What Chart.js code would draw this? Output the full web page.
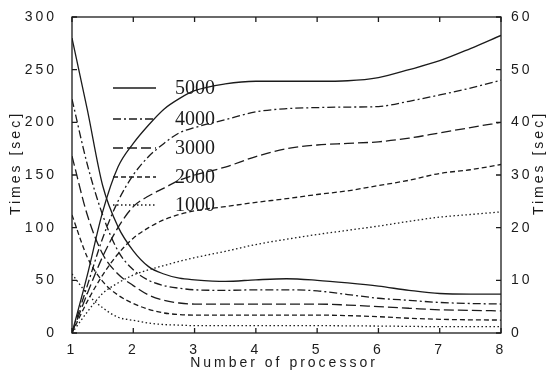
<!DOCTYPE html>
<html><head><meta charset="utf-8">
<script src="https://cdn.jsdelivr.net/npm/chart.js@4.4.0/dist/chart.umd.min.js"></script>
<style>html,body{margin:0;padding:0;background:#fff}#wrap{width:547px;height:373px}</style>
</head><body><div id="wrap"><canvas id="c" width="547" height="373"></canvas></div>
<script>
// ---- data ----
const processors = [1, 1.25, 1.5, 1.75, 2, 2.25, 2.5, 2.75, 3, 3.5, 4, 4.5, 5, 5.5, 6, 6.5, 7, 7.5, 8];
const sizes = ['5000', '4000', '3000', '2000', '1000'];
// decreasing curves (left axis, 0-300)
const left5000 = [280, 212, 140, 101, 78, 63, 56, 52, 50.5, 49, 50.5, 51.5, 50, 47.5, 44.5, 40.5, 37.5, 37, 37];
const left4000 = [222, 160, 112, 78, 60, 50, 45, 42.5, 41, 40.5, 41, 41, 40, 36.5, 33, 31, 29, 28, 27.5];
const left3000 = [168, 112, 75, 56, 45, 36, 31, 28.5, 27.5, 27.5, 27.5, 27.5, 27.5, 26.5, 25, 23.5, 22, 21.5, 21];
const left2000 = [112, 72, 49, 36, 28, 22.5, 19, 17.5, 17, 17, 17, 17, 17, 16.5, 15.5, 14, 13, 12.5, 12.3];
const left1000 = [56, 37, 24, 15, 12, 9.5, 8, 7.5, 7, 7, 7, 7, 7, 6.8, 6.6, 6.3, 6, 6, 6];
// increasing curves (right axis, 0-60)
const right5000 = [0, 11, 23, 31.5, 36, 39.5, 42.5, 44.5, 46, 47.3, 47.8, 47.8, 47.8, 47.9, 48.5, 50, 51.7, 54, 56.5];
const right4000 = [0, 9, 18, 25, 30, 33.5, 36, 38, 39, 40.5, 42, 42.6, 42.8, 42.9, 43, 44, 45.2, 46.5, 48];
const right3000 = [0, 7.5, 14.5, 20, 24, 26, 27.5, 29, 30, 31.5, 33.5, 35, 35.7, 36, 36.3, 37, 38, 39, 40];
const right2000 = [0, 6, 11, 15, 18, 20, 21.5, 22.5, 23.2, 24, 24.8, 25.5, 26.3, 27, 28, 29, 30.3, 31, 32];
const right1000 = [0, 4, 7.5, 9.5, 11, 12, 12.8, 13.6, 14.3, 15.5, 16.8, 17.8, 18.7, 19.5, 20.3, 21.2, 22, 22.5, 23];
const xTicks = [1, 2, 3, 4, 5, 6, 7, 8];
const leftTicks = [0, 50, 100, 150, 200, 250, 300];
const rightTicks = [0, 10, 20, 30, 40, 50, 60];
const xTitle = 'Number of processor';
const yTitle = 'Times [sec]';

// ---- styles ----
const INK = '#1b1b1b';
const dashes = [[], [8, 3, 2, 3], [10, 4], [5, 3], [1.5, 2.5]];
const leftSeries = [left5000, left4000, left3000, left2000, left1000];
const rightSeries = [right5000, right4000, right3000, right2000, right1000];

const toPts = arr => arr.map((v, i) => ({x: processors[i], y: v}));
const datasets = [];
sizes.forEach((s, i) => {
  datasets.push({label: s, data: toPts(leftSeries[i]), yAxisID: 'y', borderColor: INK, borderWidth: 1.3,
    borderDash: dashes[i], pointRadius: 0, fill: false, cubicInterpolationMode: 'monotone'});
  datasets.push({label: s + ' ', data: toPts(rightSeries[i]), yAxisID: 'y1', borderColor: INK, borderWidth: 1.3,
    borderDash: dashes[i], pointRadius: 0, fill: false, cubicInterpolationMode: 'monotone'});
});

const SPACING = '3px';
const frame = {
  id: 'frame',
  beforeDraw(chart) { chart.ctx.letterSpacing = SPACING; },
  afterDraw(chart) {
    const ctx = chart.ctx, a = chart.chartArea;
    const sx = chart.scales.x, sl = chart.scales.y, sr = chart.scales.y1;
    ctx.save();
    ctx.strokeStyle = INK; ctx.lineWidth = 1.3; ctx.setLineDash([]);
    ctx.strokeRect(a.left, a.top, a.right - a.left, a.bottom - a.top);
    const T = 5;
    ctx.beginPath();
    xTicks.forEach(v => { const p = sx.getPixelForValue(v);
      ctx.moveTo(p, a.bottom); ctx.lineTo(p, a.bottom - T);
      ctx.moveTo(p, a.top); ctx.lineTo(p, a.top + T); });
    leftTicks.forEach(v => { const p = sl.getPixelForValue(v);
      ctx.moveTo(a.left, p); ctx.lineTo(a.left + T, p); });
    rightTicks.forEach(v => { const p = sr.getPixelForValue(v);
      ctx.moveTo(a.right, p); ctx.lineTo(a.right - T, p); });
    ctx.stroke();
    // axis titles
    ctx.fillStyle = INK; ctx.font = '14px "Liberation Sans", Arial, sans-serif';
    ctx.letterSpacing = SPACING; ctx.textAlign = 'center'; ctx.textBaseline = 'middle';
    ctx.fillText(xTitle, 284, 363);
    const cy = (a.top + a.bottom) / 2 - 12;
    [16, 539].forEach(x => { ctx.save(); ctx.translate(x, cy); ctx.rotate(-Math.PI / 2);
      ctx.fillText(yTitle, 0, 0); ctx.restore(); });
    // legend
    ctx.letterSpacing = '0px';
    ctx.font = '20px "Liberation Serif", "Times New Roman", serif';
    ctx.textAlign = 'left';
    const ly = [88, 119, 148, 177, 205];
    sizes.forEach((s, i) => {
      ctx.beginPath(); ctx.setLineDash(dashes[i]); ctx.lineWidth = 1.3;
      ctx.moveTo(113, ly[i]); ctx.lineTo(156, ly[i]); ctx.stroke();
      ctx.setLineDash([]);
      ctx.fillText(s, 175, ly[i] + 1);
    });
    ctx.restore();
  }
};

const tickFont = {family: '"Liberation Sans", Arial, sans-serif', size: 14};
new Chart(document.getElementById('c'), {
  type: 'line',
  data: {datasets},
  plugins: [frame],
  options: {
    responsive: false, animation: false, devicePixelRatio: 1,
    layout: {padding: {top: 17, left: 0, right: 0, bottom: 0}},
    plugins: {legend: {display: false}, tooltip: {enabled: false}},
    scales: {
      x: {type: 'linear', min: 1, max: 8, afterFit: s => { s.height = 40; },
        afterBuildTicks: s => { s.ticks = xTicks.map(v => ({value: v})); },
        grid: {display: false}, border: {display: false},
        ticks: {color: INK, font: tickFont, padding: 1, maxRotation: 0}},
      y: {type: 'linear', position: 'left', min: 0, max: 300, afterFit: s => { s.width = 72; },
        afterBuildTicks: s => { s.ticks = leftTicks.map(v => ({value: v})); },
        grid: {display: false}, border: {display: false},
        ticks: {color: INK, font: tickFont, padding: 7}},
      y1: {type: 'linear', position: 'right', min: 0, max: 60, afterFit: s => { s.width = 46; },
        afterBuildTicks: s => { s.ticks = rightTicks.map(v => ({value: v})); },
        grid: {display: false}, border: {display: false},
        ticks: {color: INK, font: tickFont, padding: 2}}
    }
  }
});
</script></body></html>
